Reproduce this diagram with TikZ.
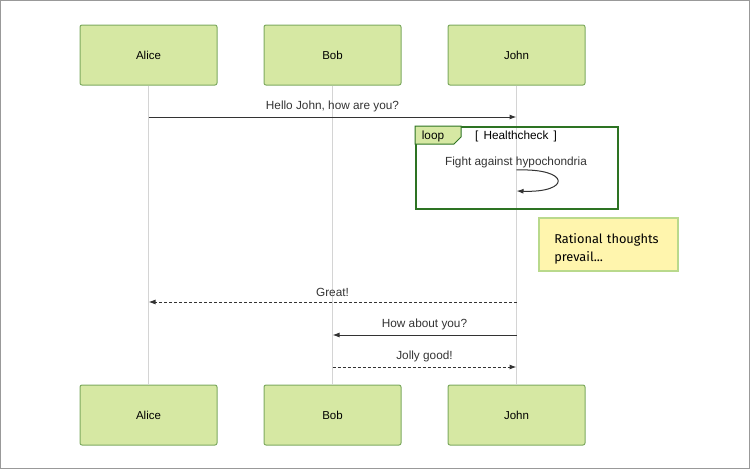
\documentclass[tikz,border=0pt]{standalone}
\usepackage{fontspec}
\setmainfont{Liberation Sans}
\newfontfamily\notefont{Fira Sans}
\usetikzlibrary{positioning, arrows.meta, calc}

\definecolor{actorfill}{RGB}{214,232,163}
\definecolor{actordraw}{RGB}{125,170,95}
\definecolor{loopdraw}{RGB}{45,115,35}
\definecolor{notefill}{RGB}{255,245,173}
\definecolor{notedraw}{RGB}{185,217,140}
\definecolor{lifegray}{RGB}{212,212,212}
\definecolor{txt}{RGB}{51,51,51}

\begin{document}
\begin{tikzpicture}[x=1pt, y=-1pt,
    actor/.style={rectangle, draw=actordraw, fill=actorfill, line width=1pt, minimum width=137pt, minimum height=60pt, rounded corners=2pt, font=\fontsize{11.5}{13}\selectfont, text=black},
    msg/.style={-{Latex[length=7pt, width=5pt]}, line width=1pt, draw=txt},
    reply/.style={msg, dash pattern=on 3pt off 2pt},
    msglabel/.style={font=\fontsize{11.8}{14}\selectfont, text=txt},
    life/.style={draw=lifegray, line width=1pt},
]

% Frame
\useasboundingbox (0,0) rectangle (750,469);
\draw[gray!80, line width=1pt] (0.5,0.5) rectangle (749.5,468.5);

% Actors (top)
\node[actor] (aliceT) at (148.5,55) {Alice};
\node[actor] (bobT) at (332.5,55) {Bob};
\node[actor] (johnT) at (516.5,55) {John};

% Actors (bottom)
\node[actor] (aliceB) at (148.5,415) {Alice};
\node[actor] (bobB) at (332.5,415) {Bob};
\node[actor] (johnB) at (516.5,415) {John};

% Lifelines
\draw[life] (aliceT) -- (aliceB);
\draw[life] (bobT) -- (bobB);
\draw[life] (johnT) -- (johnB);

% Message rows
\coordinate (m1) at (0,117);
\coordinate (m2) at (0,302);
\coordinate (m3) at (0,335);
\coordinate (m4) at (0,367);

% Hello
\draw[msg] (aliceT |- m1) -- node[msglabel, above=1.5pt] {Hello John, how are you?} (johnT |- m1);

% Loop frame
\node[draw=loopdraw, line width=1.6pt, minimum width=202pt, minimum height=82pt, anchor=north west] (loop) at (415,126) {};
\draw[draw=loopdraw, fill=actorfill, line width=1pt] (loop.north west) -- ++(46,0) -- ++(0,11) -- ++(-7,7) -- ++(-39,0) -- cycle;
\node[msglabel, text=black] (looptag) at (433,136) {loop};
\node[msglabel, text=black] (guard) at (516,136) {[\,\ Healthcheck\ \,]};

% Self message
\node[msglabel] (fight) at (516,162) {Fight against hypochondria};
\coordinate (s1) at (johnT |- 0,170);
\coordinate (s2) at (johnT |- 0,191);
\draw[msg] (s1) .. controls (571,168) and (571,193) .. (s2);

% Note
\node[draw=notedraw, fill=notefill, line width=1.5pt, minimum width=139pt, minimum height=53pt, anchor=north west] (note) at (538,217) {};
\node[font=\notefont\fontsize{12.8}{18}\selectfont, text=black, text width=112pt, align=left, inner sep=0pt] (notetext) at ([xshift=2pt, yshift=-5pt]note.center) {Rational thoughts\\prevail...};

% Replies
\draw[reply] (johnT |- m2) -- node[msglabel, above=1.5pt] {Great!} (aliceT |- m2);
\draw[msg] (johnT |- m3) -- node[msglabel, above=1.5pt] {How about you?} (bobT |- m3);
\draw[reply] (bobT |- m4) -- node[msglabel, above=1.5pt] {Jolly good!} (johnT |- m4);

\end{tikzpicture}
\end{document}
